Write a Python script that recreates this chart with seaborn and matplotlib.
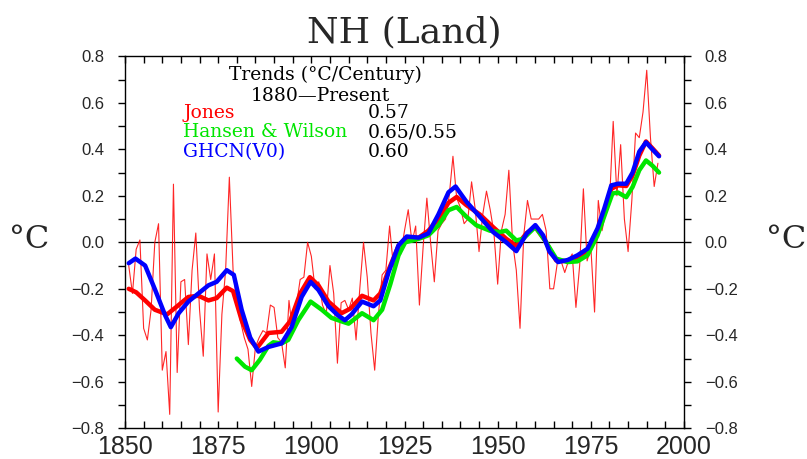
import matplotlib
matplotlib.use("Agg")
import matplotlib.pyplot as plt
from matplotlib.ticker import MultipleLocator, FixedLocator
import seaborn as sns
import pandas as pd
import numpy as np

# ---------------- data ----------------
jones_years = list(range(1851, 1994))
jones_annual = [
    -0.10, -0.22, -0.03, 0.01, -0.37, -0.42, -0.29, 0.00, 0.08, -0.55,   # 1851-1860
    -0.47, -0.74, 0.25, -0.56, -0.17, -0.16, -0.44, -0.12, 0.04, -0.29,  # 1861-1870
    -0.49, -0.05, -0.16, -0.05, -0.73, -0.31, -0.12, 0.28, -0.12, -0.26, # 1871-1880
    -0.34, -0.41, -0.46, -0.62, -0.45, -0.41, -0.38, -0.39, -0.27, -0.28,# 1881-1890
    -0.41, -0.43, -0.54, -0.25, -0.39, -0.27, -0.16, -0.15, 0.00, -0.06, # 1891-1900
    -0.20, -0.17, -0.27, -0.31, -0.10, -0.22, -0.52, -0.26, -0.25, -0.29,# 1901-1910
    -0.24, -0.42, -0.20, 0.00, -0.15, -0.39, -0.55, -0.31, -0.14, -0.12, # 1911-1920
    0.07, -0.10, -0.02, -0.05, 0.05, 0.14, 0.00, 0.07, -0.27, -0.02,     # 1921-1930
    0.19, 0.00, -0.17, 0.05, 0.08, 0.10, 0.20, 0.37, 0.19, 0.15,         # 1931-1940
    0.08, 0.10, 0.26, 0.14, -0.04, 0.12, 0.22, 0.14, 0.04, -0.18,        # 1941-1950
    0.05, 0.12, 0.31, 0.00, -0.12, -0.37, 0.03, 0.18, 0.10, 0.10,        # 1951-1960
    0.10, 0.12, 0.05, -0.20, -0.20, -0.09, -0.08, -0.13, -0.08, -0.05,   # 1961-1970
    -0.28, -0.10, 0.23, -0.08, -0.02, -0.30, 0.18, 0.05, 0.13, 0.17,     # 1971-1980
    0.52, 0.20, 0.42, 0.10, -0.04, 0.18, 0.47, 0.45, 0.56, 0.74,         # 1981-1990
    0.45, 0.24, 0.34,                                                    # 1991-1993
]

jones_smooth_years = [1851, 1853, 1855.4, 1858, 1861.3, 1864, 1867, 1869.7, 1872.4, 1874.6,
                      1877.3, 1879, 1881.3, 1883.6, 1885.4, 1888.5, 1892, 1894.3, 1897, 1899.6,
                      1901.9, 1904.6, 1908.1, 1910.5, 1913.6, 1916.7, 1918.5, 1920.7, 1923.4, 1925.6,
                      1928.8, 1931.4, 1934.1, 1936.8, 1939, 1941.6, 1945.2, 1948.8, 1952.3, 1955,
                      1957.8, 1960.1, 1962.7, 1965.7, 1968.8, 1971.4, 1974.1, 1976.8, 1978.6, 1980.5,
                      1982.3, 1984.5, 1986.2, 1988, 1989.8, 1991.5, 1993.3]
jones_smooth = [-0.20, -0.215, -0.25, -0.29, -0.31, -0.275, -0.235, -0.23, -0.25, -0.24,
                -0.195, -0.21, -0.335, -0.42, -0.455, -0.39, -0.385, -0.34, -0.22, -0.15,
                -0.185, -0.255, -0.305, -0.285, -0.23, -0.25, -0.22, -0.12, -0.015, 0.02,
                0.02, 0.05, 0.10, 0.17, 0.195, 0.16, 0.12, 0.065, 0.015, -0.015,
                0.04, 0.066, 0.008, -0.078, -0.082, -0.063, -0.04, 0.044, 0.13, 0.23,
                0.245, 0.242, 0.288, 0.373, 0.434, 0.405, 0.373]

ghcn_years = [1851, 1852.8, 1855.4, 1858.1, 1860.8, 1862.3, 1864.4, 1867, 1869.7, 1872.4,
              1874.6, 1877.3, 1879.2, 1881.3, 1883.6, 1885.8, 1888.5, 1892, 1894.7, 1897.4,
              1899.8, 1901.9, 1904.6, 1907.2, 1909, 1910.8, 1913.6, 1916.7, 1918.5, 1920.7,
              1923.4, 1925.6, 1928.8, 1931.4, 1934.1, 1936.8, 1938.7, 1941.6, 1945.2, 1948.8,
              1952.3, 1955, 1957.8, 1960.1, 1962.2, 1963.9, 1966.2, 1968.8, 1971.4, 1974.1,
              1976.8, 1978.6, 1980.5, 1982.3, 1984.5, 1986.2, 1988, 1989.8, 1991.5, 1993.3]
ghcn_smooth = [-0.09, -0.07, -0.10, -0.205, -0.315, -0.365, -0.305, -0.255, -0.22, -0.185,
               -0.17, -0.12, -0.14, -0.29, -0.41, -0.47, -0.45, -0.435, -0.365, -0.235,
               -0.17, -0.205, -0.275, -0.315, -0.335, -0.31, -0.255, -0.275, -0.25, -0.13,
               -0.013, 0.025, 0.02, 0.038, 0.12, 0.215, 0.24, 0.175, 0.11, 0.044,
               0.0, -0.038, 0.038, 0.074, 0.03, -0.04, -0.085, -0.076, -0.056, -0.028,
               0.06, 0.145, 0.245, 0.252, 0.252, 0.30, 0.39, 0.43, 0.40, 0.37]

hansen_years = [1880, 1882.2, 1884, 1886.2, 1888.5, 1889.8, 1892, 1893.8, 1896.5, 1899.8,
                1902.8, 1905.4, 1908.1, 1910, 1913.6, 1916.7, 1919, 1921.2, 1923.4, 1925.2,
                1928.8, 1931.4, 1934.1, 1936.8, 1939, 1941.6, 1944.3, 1947.9, 1950.5, 1952.3,
                1955, 1956.8, 1960.1, 1962.7, 1965.7, 1968.8, 1971.4, 1974.1, 1976.8, 1979,
                1980.8, 1982.3, 1984.5, 1986.2, 1988, 1989.8, 1991.5, 1993.3]
hansen_smooth = [-0.50, -0.535, -0.55, -0.505, -0.445, -0.43, -0.435, -0.42, -0.335, -0.255,
                 -0.29, -0.325, -0.34, -0.35, -0.305, -0.335, -0.29, -0.18, -0.056, 0.0,
                 0.015, 0.03, 0.073, 0.138, 0.152, 0.11, 0.073, 0.05, 0.044, 0.05,
                 0.008, 0.015, 0.066, 0.008, -0.07, -0.085, -0.082, -0.056, 0.03, 0.13,
                 0.21, 0.214, 0.194, 0.238, 0.31, 0.352, 0.33, 0.30]

legend_names = ["Jones", "Hansen & Wilson", "GHCN(V0)"]
legend_trends = ["0.57", "0.65/0.55", "0.60"]
x_ticks = [1850, 1875, 1900, 1925, 1950, 1975, 2000]
y_ticks = [-0.8, -0.6, -0.4, -0.2, 0.0, 0.2, 0.4, 0.6, 0.8]

# ---------------- figure ----------------
sns.set_style("white")
plt.rcParams['font.family'] = ['Liberation Sans', 'DejaVu Sans']

RED, GREEN, BLUE = "#ff0000", "#00e600", "#0000ff"

fig = plt.figure(figsize=(8.07, 4.59), dpi=100)
ax = fig.add_axes([125/807, 1-428.3/459, 559/807, (428.3-56.3)/459])

df_annual = pd.DataFrame({"year": jones_years, "temp": jones_annual})
df_js = pd.DataFrame({"year": jones_smooth_years, "temp": jones_smooth})
df_gh = pd.DataFrame({"year": ghcn_years, "temp": ghcn_smooth})
df_hw = pd.DataFrame({"year": hansen_years, "temp": hansen_smooth})

ax.axhline(0, color="black", linewidth=0.9, zorder=1)
sns.lineplot(data=df_annual, x="year", y="temp", ax=ax, color=RED, linewidth=0.8,
             alpha=0.85, estimator=None, zorder=2)
sns.lineplot(data=df_js, x="year", y="temp", ax=ax, color=RED, linewidth=3.2,
             estimator=None, zorder=3)
sns.lineplot(data=df_hw, x="year", y="temp", ax=ax, color=GREEN, linewidth=3.2,
             estimator=None, zorder=4)
sns.lineplot(data=df_gh, x="year", y="temp", ax=ax, color=BLUE, linewidth=3.2,
             estimator=None, zorder=5)

ax.set_xlim(1850, 2000)
ax.set_ylim(-0.8, 0.8)
ax.set_xlabel("")
ax.set_ylabel("")

for sp in ax.spines.values():
    sp.set_visible(True)
    sp.set_color("black")
    sp.set_linewidth(1.0)

ax.xaxis.set_major_locator(FixedLocator(x_ticks))
ax.xaxis.set_minor_locator(MultipleLocator(5))
ax.yaxis.set_major_locator(FixedLocator(y_ticks))
ax.yaxis.set_minor_locator(MultipleLocator(0.1))
ax.set_xticklabels([str(t) for t in x_ticks])
ax.set_yticklabels([f"{t:.1f}".replace("-", "\u2212") for t in y_ticks])

ax.tick_params(axis="x", which="both", direction="in", top=True, bottom=True,
               length=5, width=1, color="black", labelsize=18, pad=5)
ax.tick_params(axis="y", which="both", direction="out", left=True, right=True,
               labelleft=True, labelright=True, length=5, width=1, color="black",
               labelsize=12, pad=10)

ax.grid(False)

# title and unit labels
fig.text(404.5/807, 1-32/459, "NH (Land)", ha="center", va="center",
         fontsize=26, family="DejaVu Serif")
fig.text(29/807, 1-240/459, "\u00b0C", ha="center", va="center",
         fontsize=23, family="DejaVu Serif")
fig.text(786/807, 1-240/459, "\u00b0C", ha="center", va="center",
         fontsize=23, family="DejaVu Serif")

# in-plot trend box
ax.text(1903.9, 0.72, "Trends (\u00b0C/Century)", ha="center", va="center",
        fontsize=13.5, family="DejaVu Serif", color="black")
ax.text(1902.3, 0.63, "1880\u2014Present", ha="center", va="center",
        fontsize=13.5, family="DejaVu Serif", color="black")
legend_y = [0.556, 0.474, 0.388]
for name, tr, col, yy in zip(legend_names, legend_trends, [RED, GREEN, BLUE], legend_y):
    ax.text(1865.6, yy, name, ha="left", va="center", fontsize=13.5,
            family="DejaVu Serif", color=col)
    ax.text(1915.2, yy, tr, ha="left", va="center", fontsize=13.5,
            family="DejaVu Serif", color="black")

fig.savefig("out.png", dpi=100)
